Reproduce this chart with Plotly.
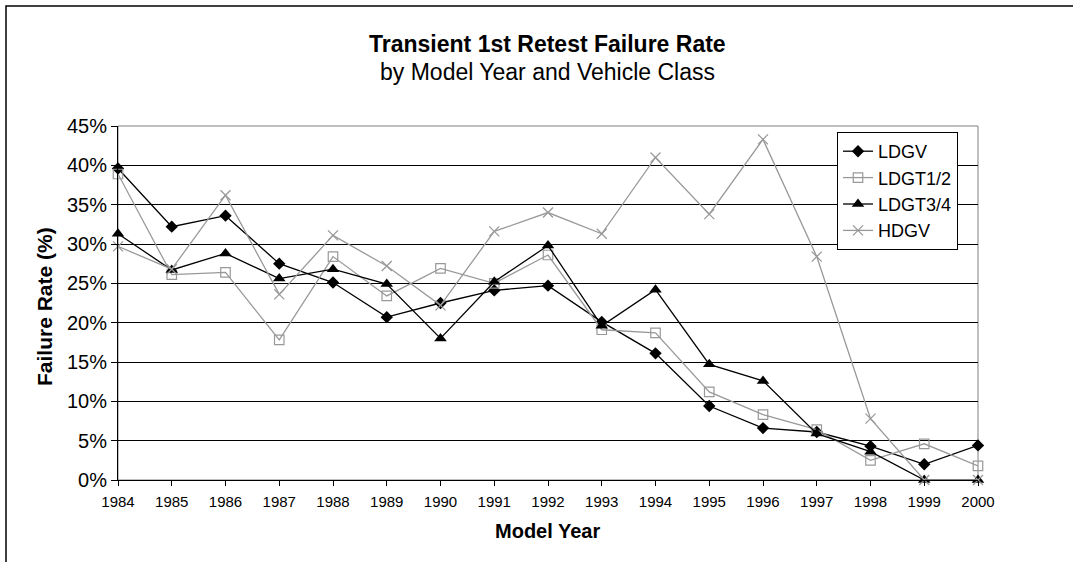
import plotly.graph_objects as go

years = list(range(1984, 2001))
ldgv = [39.6, 32.2, 33.6, 27.5, 25.1, 20.7, 22.5, 24.1, 24.7, 20.1, 16.1, 9.4, 6.6, 6.1, 4.3, 2.0, 4.4]
ldgt12 = [38.9, 26.1, 26.4, 17.8, 28.4, 23.4, 26.9, 25.0, 28.6, 19.1, 18.7, 11.2, 8.3, 6.4, 2.5, 4.6, 1.8]
ldgt34 = [31.3, 26.7, 28.8, 25.6, 26.8, 24.9, 18.0, 25.2, 29.8, 19.6, 24.2, 14.7, 12.6, 5.9, 3.6, 0.0, 0.0]
hdgv = [29.7, 26.8, 36.2, 23.6, 31.1, 27.2, 22.2, 31.6, 34.0, 31.3, 41.0, 33.8, 43.3, 28.4, 7.8, 0.0, 0.0]

FONT = "Liberation Sans, Arial, sans-serif"
GRAY = "#999999"

W, H = 1073, 562
L, R, T, B = 118, 95, 126, 82
PW, PH = W - L - R, H - T - B

def px(x):
    return (x - L) / PW

def py(y):
    return (H - B - y) / PH

fig = go.Figure()
series = [
    ("LDGV", ldgv, "black", dict(symbol="diamond", size=9.5, color="black")),
    ("LDGT1/2", ldgt12, GRAY, dict(symbol="square-open", size=9.5, color=GRAY, line=dict(width=1.2, color=GRAY))),
    ("LDGT3/4", ldgt34, "black", dict(symbol="triangle-up", size=11, color="black")),
    ("HDGV", hdgv, GRAY, dict(symbol="x-thin-open", size=10, color=GRAY, line=dict(width=1.3, color=GRAY))),
]
for name, vals, col, mk in series:
    fig.add_trace(go.Scatter(x=years, y=vals, name=name, mode="lines+markers",
                             line=dict(color=col, width=1.3), marker=mk, cliponaxis=False))

fig.update_layout(
    width=W, height=H,
    margin=dict(l=L, r=R, t=T, b=B, autoexpand=False),
    paper_bgcolor="white", plot_bgcolor="white",
    font=dict(family=FONT, color="black"),
    showlegend=True,
    legend=dict(x=px(837), y=py(132), xanchor="left", yanchor="top",
                bordercolor="black", borderwidth=1, bgcolor="white",
                font=dict(size=18, family=FONT), tracegroupgap=0,
                itemwidth=30),
    xaxis=dict(range=[1984, 2000], tickmode="array", tickvals=years,
               ticktext=[str(y) for y in years], ticks="outside", ticklen=5,
               tickcolor="black", showline=True, linecolor="black", linewidth=1,
               showgrid=False, zeroline=False, tickfont=dict(size=15, family=FONT),
               ticklabelstandoff=3, automargin=False),
    yaxis=dict(range=[0, 45], dtick=5, ticksuffix="%", ticks="outside", ticklen=6,
               tickcolor="black", showline=True, linecolor="black", linewidth=1,
               showgrid=True, gridcolor="black", gridwidth=1, zeroline=False,
               tickfont=dict(size=20, family=FONT), automargin=False),
    shapes=[
        dict(type="rect", xref="paper", yref="paper", x0=0, x1=1, y0=0, y1=1,
             line=dict(color="#808080", width=1), layer="below"),
        dict(type="rect", xref="paper", yref="paper", x0=px(6), x1=px(1100),
             y0=py(600), y1=py(6), line=dict(color="black", width=1.5)),
    ],
    annotations=[
        dict(text="<b>Transient 1st Retest Failure Rate</b>", xref="paper", yref="paper",
             x=px(547), y=py(44), xanchor="center", yanchor="middle", showarrow=False,
             font=dict(size=23, family=FONT)),
        dict(text="by Model Year and Vehicle Class", xref="paper", yref="paper",
             x=px(547), y=py(72), xanchor="center", yanchor="middle", showarrow=False,
             font=dict(size=23, family=FONT)),
        dict(text="<b>Model Year</b>", xref="paper", yref="paper",
             x=px(547), y=py(531), xanchor="center", yanchor="middle", showarrow=False,
             font=dict(size=20, family=FONT)),
        dict(text="<b>Failure Rate (%)</b>", xref="paper", yref="paper",
             x=px(44), y=py(307), xanchor="center", yanchor="middle", showarrow=False,
             textangle=-90, font=dict(size=21, family=FONT)),
    ],
)

fig.write_html("out.html", config={"displayModeBar": False},
               post_script="document.body.style.margin='0';")
